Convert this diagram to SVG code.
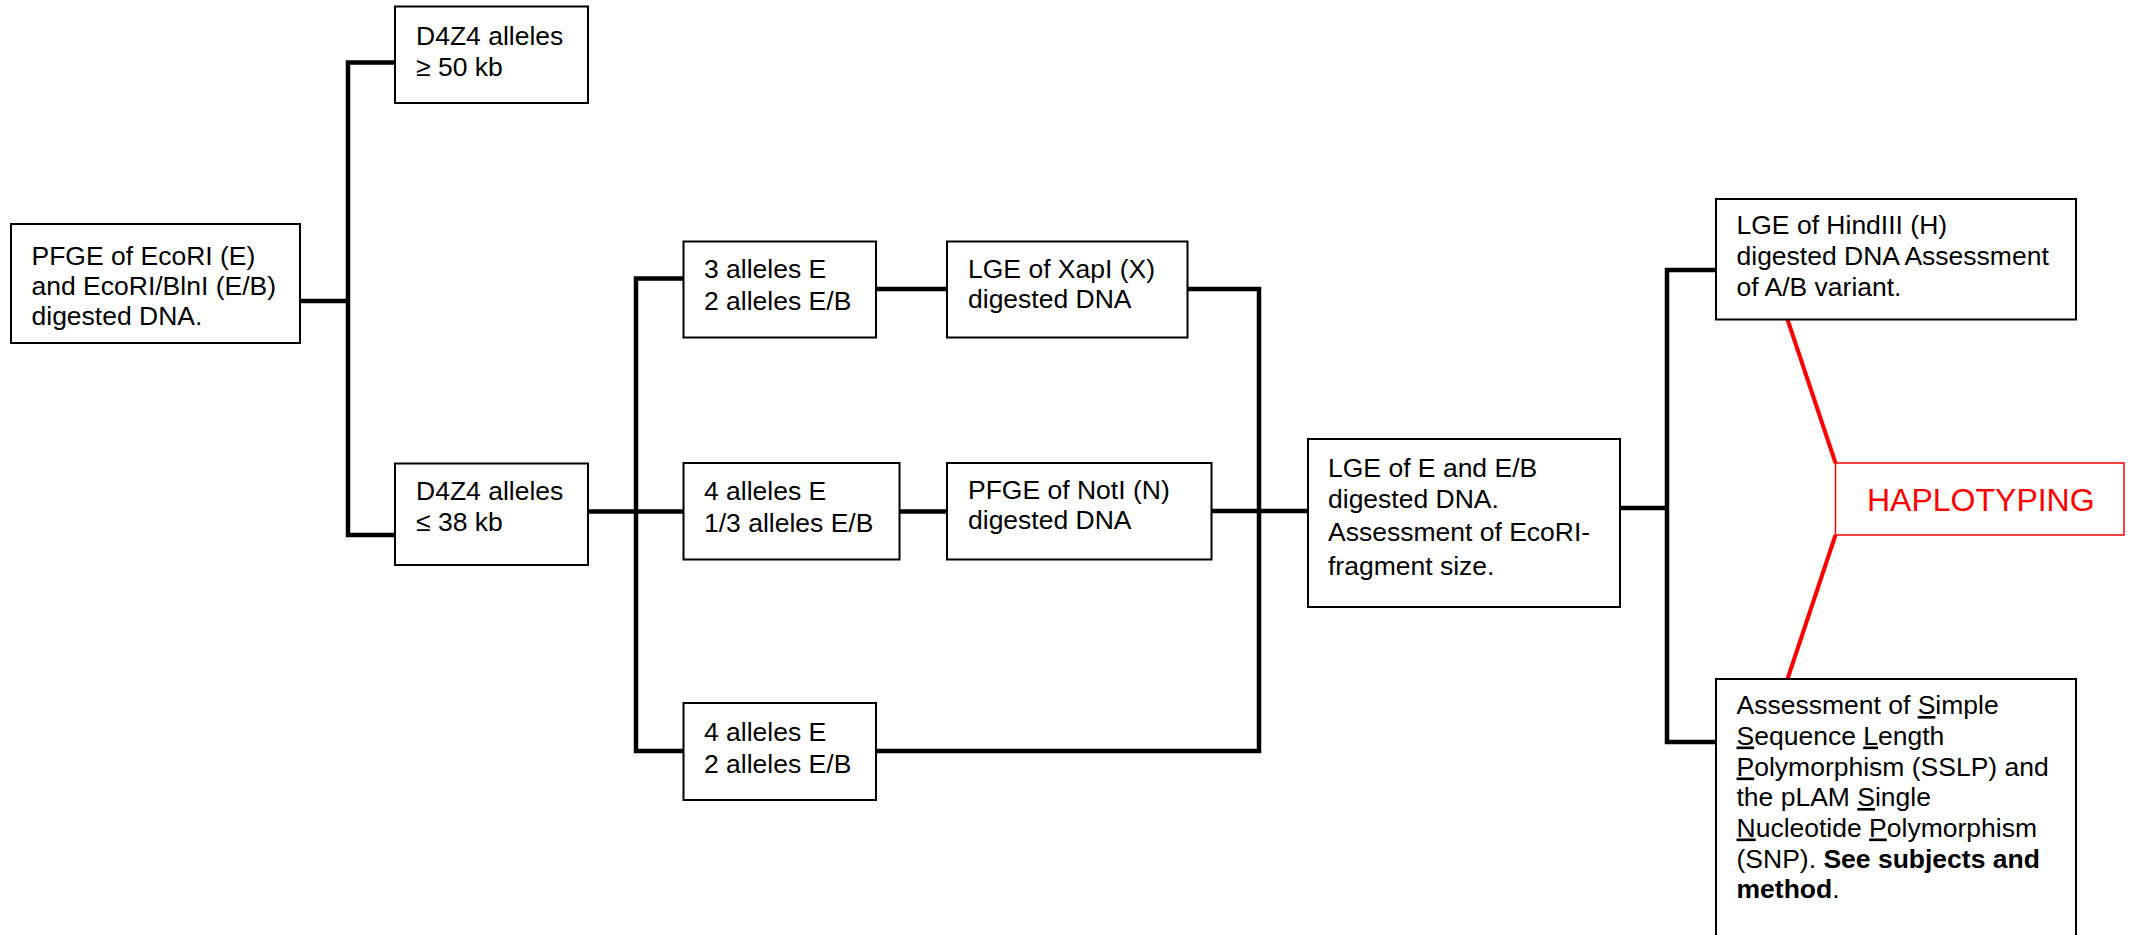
<svg xmlns="http://www.w3.org/2000/svg" width="2134" height="935" viewBox="0 0 2134 935">
<style>
.box{fill:#fff;stroke:#000;stroke-width:2}
.t{font-family:"Liberation Sans",Arial,sans-serif;font-size:26.5px;fill:#000}
.c{stroke:#000;stroke-width:4.5;fill:none;stroke-linecap:square}
.r{stroke:#ff0000;stroke-width:4;fill:none}
.u{text-decoration:underline}
.b{font-weight:bold}
</style>
<rect width="2134" height="935" fill="#fff"/>
<g id="connectors">
<path class="c" d="M300,301 H348 M348,62.5 V535 M348,62.5 H395 M348,535 H395"/>
<path class="c" d="M588,511.5 H683.5 M636,278.5 V751 M636,278.5 H683.5 M636,751 H683.5"/>
<path class="c" d="M876,289 H947 M1187.5,289 H1259 M1259,289 V751 M876,751 H1259"/>
<path class="c" d="M899.5,511.5 H947 M1211.5,511 H1308"/>
<path class="c" d="M1620,508 H1667 M1667,270 V742 M1667,270 H1716 M1667,742 H1716"/>
<path class="r" d="M1787.5,319.5 L1835.5,463 M1835.5,535 L1787.5,679"/>
</g>
<g id="n1"><rect class="box" x="11" y="224" width="289" height="119"/>
<text class="t" x="31.5"><tspan x="31.5" y="265">PFGE of EcoRI (E)</tspan><tspan x="31.5" y="295">and EcoRI/BlnI (E/B)</tspan><tspan x="31.5" y="325">digested DNA.</tspan></text></g>
<g id="n2"><rect class="box" x="395" y="6.5" width="193" height="96.5"/>
<text class="t"><tspan x="416" y="44.5">D4Z4 alleles</tspan><tspan x="416" y="75.5">≥ 50 kb</tspan></text></g>
<g id="n3"><rect class="box" x="395" y="463.5" width="193" height="101.5"/>
<text class="t"><tspan x="416" y="500">D4Z4 alleles</tspan><tspan x="416" y="531">≤ 38 kb</tspan></text></g>
<g id="n4"><rect class="box" x="683.5" y="241.5" width="192.5" height="96"/>
<text class="t"><tspan x="704" y="278">3 alleles E</tspan><tspan x="704" y="310">2 alleles E/B</tspan></text></g>
<g id="n5"><rect class="box" x="947" y="241.5" width="240.5" height="96"/>
<text class="t"><tspan x="968" y="278">LGE of XapI (X)</tspan><tspan x="968" y="308">digested DNA</tspan></text></g>
<g id="n6"><rect class="box" x="683.5" y="463" width="216" height="96.5"/>
<text class="t"><tspan x="704" y="500">4 alleles E</tspan><tspan x="704" y="532">1/3 alleles E/B</tspan></text></g>
<g id="n7"><rect class="box" x="947" y="463" width="264.5" height="96.5"/>
<text class="t"><tspan x="968" y="499">PFGE of NotI (N)</tspan><tspan x="968" y="529">digested DNA</tspan></text></g>
<g id="n8"><rect class="box" x="683.5" y="703" width="192.5" height="97"/>
<text class="t"><tspan x="704" y="740.5">4 alleles E</tspan><tspan x="704" y="773">2 alleles E/B</tspan></text></g>
<g id="n9"><rect class="box" x="1308" y="439" width="312" height="168"/>
<text class="t"><tspan x="1328" y="477">LGE of E and E/B</tspan><tspan x="1328" y="507.5">digested DNA.</tspan><tspan x="1328" y="541">Assessment of EcoRI-</tspan><tspan x="1328" y="575">fragment size.</tspan></text></g>
<g id="n10"><rect class="box" x="1716" y="199" width="360" height="120.5"/>
<text class="t"><tspan x="1736.5" y="234">LGE of HindIII (H)</tspan><tspan x="1736.5" y="265">digested DNA Assessment</tspan><tspan x="1736.5" y="296">of A/B variant.</tspan></text></g>
<g id="n11"><rect class="box" x="1716" y="679" width="360" height="280"/>
<text class="t"><tspan x="1736.5" y="714">Assessment of <tspan class="u">S</tspan>imple</tspan><tspan x="1736.5" y="744.5"><tspan class="u">S</tspan>equence <tspan class="u">L</tspan>ength</tspan><tspan x="1736.5" y="775.5"><tspan class="u">P</tspan>olymorphism (SSLP) and</tspan><tspan x="1736.5" y="806">the pLAM <tspan class="u">S</tspan>ingle</tspan><tspan x="1736.5" y="836.5"><tspan class="u">N</tspan>ucleotide <tspan class="u">P</tspan>olymorphism</tspan><tspan x="1736.5" y="867.5">(SNP). <tspan class="b">See subjects and</tspan></tspan><tspan x="1736.5" y="897.5"><tspan class="b">method</tspan>.</tspan></text></g>
<g id="n12"><rect x="1835.5" y="463" width="288.5" height="72" fill="#fff" stroke="#ff0000" stroke-width="1.5"/>
<text x="1867" y="511" font-family="Liberation Sans, Arial, sans-serif" font-size="32" fill="#ff0000">HAPLOTYPING</text></g>
</svg>
